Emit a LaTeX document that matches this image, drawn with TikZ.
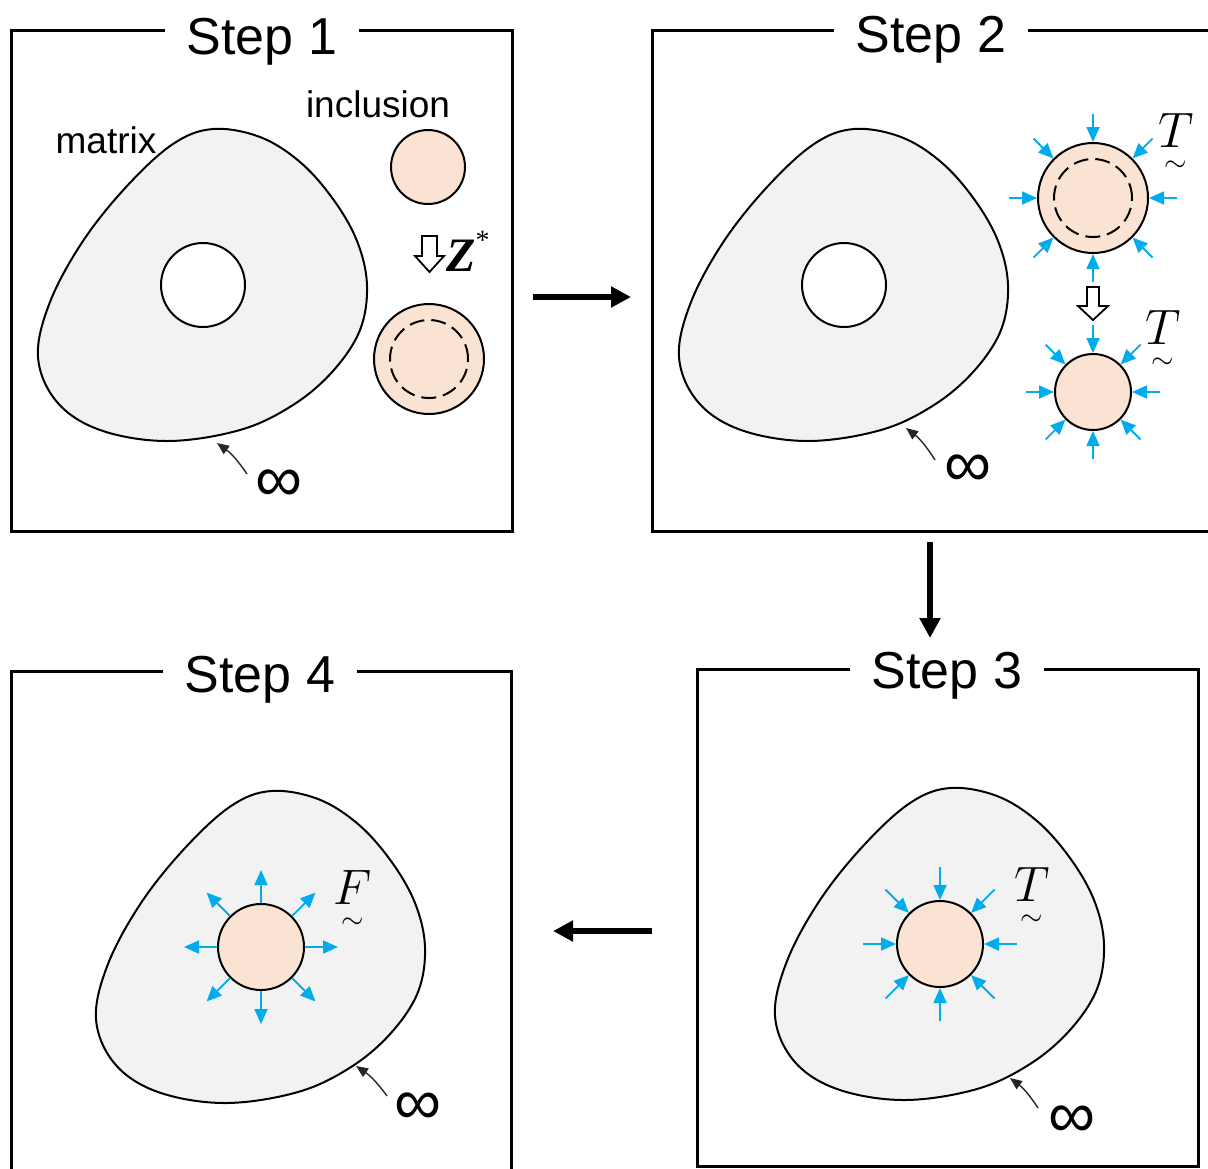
\documentclass[tikz,border=0pt]{standalone}
\usepackage{amsmath}
\usepackage{fontspec}
\setmainfont{Liberation Sans}
\newfontfamily\libserif{Liberation Serif}
\usetikzlibrary{arrows.meta,calc}
\definecolor{blobgray}{RGB}{242,242,242}
\definecolor{peach}{RGB}{251,227,211}
\definecolor{cyanarr}{RGB}{0,172,236}
\newcommand\blobat[2]{\draw[blob,shift={#1}] plot[smooth cycle,tension=0.6] coordinates {(10,-156) (57,-148) (97,-123) (130,-86) (154,-44) (164,0) (157,45) (130,86) (90,120) (37,145) (-36,156) (-103,145) (-146,117) (-165,72) (-153,17) (-120,-44) (-76,-99) (-30,-141)};\coordinate (#2) at #1;}
\newcommand\tildelbl[1]{$#1$\\[-18pt]{\fontsize{14}{14}\selectfont$\sim$}}
\tikzset{
  frame/.style={line width=1.5pt},
  steptitle/.style={font=\fontsize{26}{30}\selectfont, fill=white, inner xsep=11pt, inner ysep=0pt, anchor=base},
  lbl/.style={font=\fontsize{18.5}{22}\selectfont, inner sep=0pt, anchor=base},
  blob/.style={draw=black, line width=1pt, fill=blobgray},
  hole/.style={circle, draw=black, line width=1pt, fill=white, inner sep=0pt},
  incl/.style={circle, draw=black, line width=1pt, fill=peach, inner sep=0pt},
  dashcirc/.style={circle, draw=black, line width=1pt, dash pattern=on 7.5pt off 3.5pt, inner sep=0pt},
  bluearr/.style={draw=cyanarr, line width=0.9pt, -{Triangle[length=7.5pt,width=6.5pt]}, fill=cyanarr},
  bigarr/.style={line width=2.6pt, -{Triangle[length=10pt,width=10pt]}},
  leader/.style={draw=black!85, line width=0.7pt, -{Triangle[length=6pt,width=5pt]}},
  hollow/.style={draw=black, line width=0.9pt, fill=white, line join=miter},
  inflbl/.style={font=\fontsize{33}{37}\selectfont, inner sep=0pt},
  mathlbl/.style={font=\fontsize{25}{30}\selectfont, inner sep=0pt, align=center, anchor=north},
}
\begin{document}
\begin{tikzpicture}[x=0.5pt,y=-0.5pt]
\useasboundingbox (0,0) rectangle (1208,1168);
% ---------- Step 1 ----------
\draw[frame] (11,30) rectangle (512,531);
\node[steptitle] (t1) at (262,54) {Step 1};
\blobat{(203,285)}{b1}
\node[hole, minimum size=42pt] (hole1) at (203,285) {};
\node[lbl] (matrix) at (106,153) {matrix};
\node[lbl] (inclusion) at (378,117) {inclusion};
\node[incl, minimum size=37pt] (inc1a) at (428,167) {};
\draw[hollow] (422,236) -- (437,236) -- (437,256) -- (444,256) -- (429.5,272) -- (415,256) -- (422,256) -- cycle;
\node[inner sep=0pt, anchor=base west] (zstar) at (446,271) {{\fontsize{24}{28}\libserif\bfseries\itshape Z}\raisebox{11pt}{\fontsize{14}{16}\libserif *}};
\node[incl, minimum size=55pt] (inc1b) at (429,359) {};
\node[dashcirc, minimum size=39pt] (dash1) at (429,359) {};
\node[inflbl] (inf1) at (279,486) {∞};
\coordinate (l1s) at (247,474);
\coordinate (l1e) at (217,443);
\draw[leader] (l1s) to[bend right=10] (l1e);
% ---------- Step 2 ----------
\draw[frame] (1215,30) -- (652,30) -- (652,531) -- (1215,531);
\node[steptitle] (t2) at (931,52) {Step 2};
\blobat{(844,285)}{b2}
\node[hole, minimum size=42pt] (hole2) at (844,285) {};
\node[incl, minimum size=55pt] (inc2a) at (1093,198) {};
\node[dashcirc, minimum size=39pt] (dash2) at (1093,198) {};
\foreach \a in {0,45,...,315}
  \draw[bluearr] ($(inc2a.center)+(\a:42pt)$) -- (inc2a.\a);
\draw[hollow] (1087,287) -- (1099,287) -- (1099,306) -- (1108,306) -- (1093,320) -- (1078,306) -- (1087,306) -- cycle;
\node[incl, minimum size=38pt] (inc2b) at (1093,392) {};
\foreach \a in {0,45,...,315}
  \draw[bluearr] ($(inc2b.center)+(\a:33.5pt)$) -- (inc2b.\a);
\node[mathlbl] (T2a) at (1176,113) {\tildelbl{T}};
\node[mathlbl] (T2b) at (1163,310) {\tildelbl{T}};
\node[inflbl] (inf2) at (968,471) {∞};
\coordinate (l2s) at (935,460);
\coordinate (l2e) at (906,428);
\draw[leader] (l2s) to[bend right=10] (l2e);
% ---------- Step 3 ----------
\draw[frame] (697,669) rectangle (1198,1166);
\node[steptitle] (t3) at (947,688) {Step 3};
\blobat{(940,944)}{b3}
\node[incl, minimum size=43pt] (inc3) at (940,944) {};
\foreach \a in {0,45,...,315}
  \draw[bluearr] ($(inc3.center)+(\a:38.5pt)$) -- (inc3.\a);
\node[mathlbl] (T3) at (1032,867) {\tildelbl{T}};
\node[inflbl] (inf3) at (1072,1122) {∞};
\coordinate (l3s) at (1038,1108);
\coordinate (l3e) at (1010,1078);
\draw[leader] (l3s) to[bend right=10] (l3e);
% ---------- Step 4 ----------
\draw[frame] (11,1175) -- (11,671) -- (511,671) -- (511,1175);
\node[steptitle] (t4) at (260,692) {Step 4};
\blobat{(261,947)}{b4}
\node[incl, minimum size=43pt] (inc4) at (261,947) {};
\foreach \a in {0,45,...,315}
  \draw[bluearr] (inc4.\a) -- ($(inc4.center)+(\a:38.5pt)$);
\node[mathlbl] (F4) at (353,870) {\tildelbl{F}};
\node[inflbl] (inf4) at (418,1109) {∞};
\coordinate (l4s) at (387,1096);
\coordinate (l4e) at (356,1066);
\draw[leader] (l4s) to[bend right=10] (l4e);
% ---------- flow arrows ----------
\coordinate (a12s) at (533,297);
\coordinate (a12e) at (631,297);
\coordinate (a23s) at (930,542);
\coordinate (a23e) at (930,638);
\coordinate (a34s) at (652,931);
\coordinate (a34e) at (553,931);
\draw[bigarr] (a12s) -- (a12e);
\draw[bigarr] (a23s) -- (a23e);
\draw[bigarr] (a34s) -- (a34e);
\end{tikzpicture}
\end{document}
